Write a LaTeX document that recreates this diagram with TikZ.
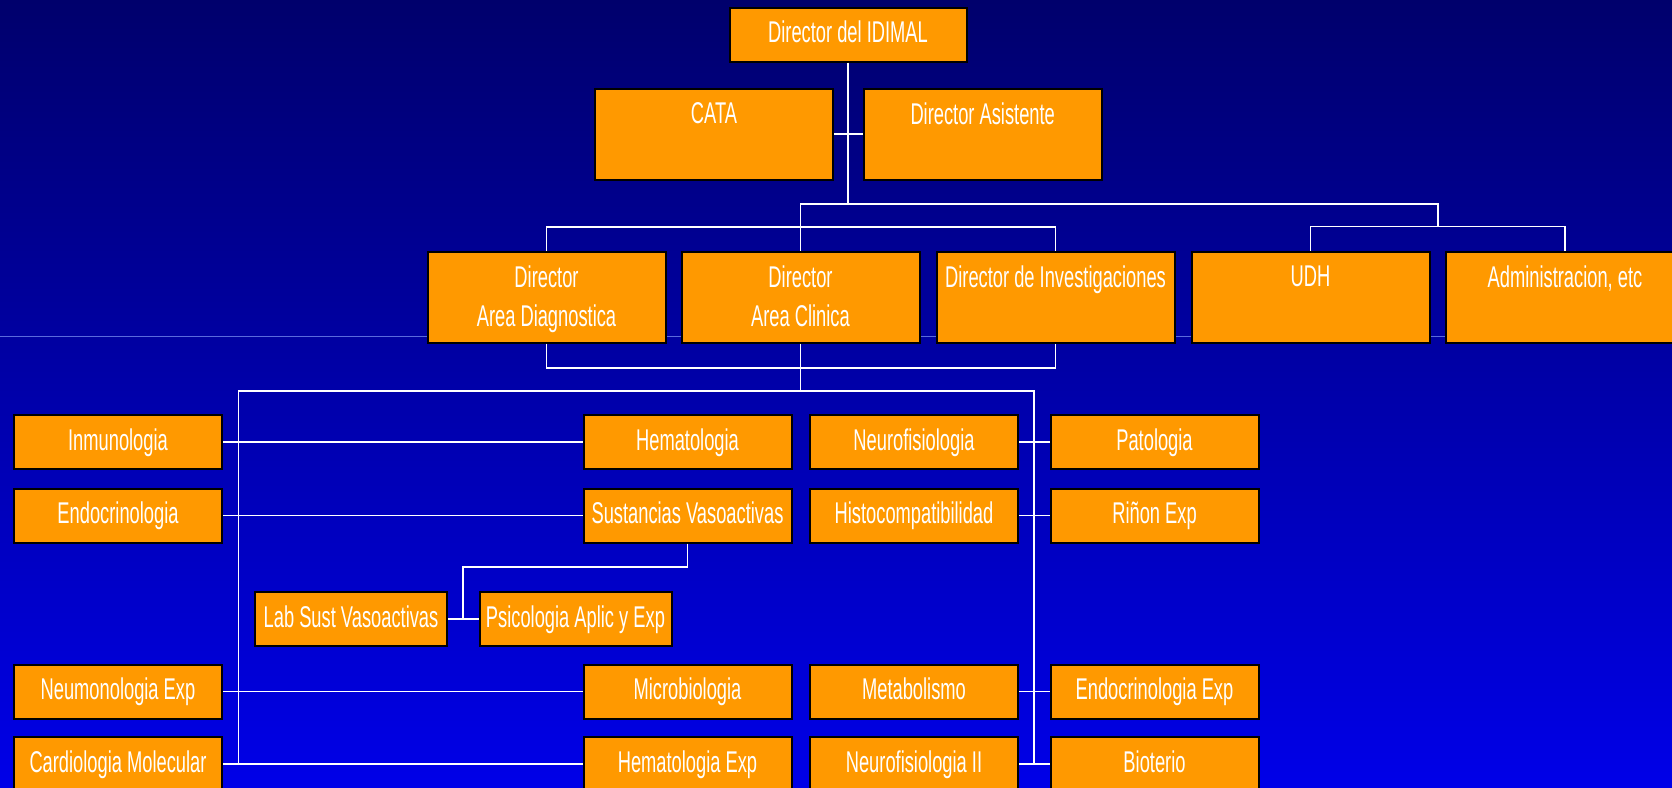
\documentclass[tikz,border=0pt]{standalone}
\usepackage{fontspec}
\setmainfont[FakeStretch=0.61]{Liberation Sans}
\usetikzlibrary{calc}

\definecolor{naranja}{HTML}{FF9900}
\definecolor{fondoarriba}{HTML}{00006C}
\definecolor{fondomedio}{HTML}{0000BC}
\definecolor{fondoabajo}{HTML}{0000E8}
\definecolor{rayaclara}{HTML}{5A6ADC}

\tikzset{
  caja/.style={draw=black, line width=2pt, fill=naranja, text=white,
    font=\fontsize{30}{39}\selectfont, minimum width=208pt, minimum height=54pt,
    inner sep=0pt, text height=22pt, text depth=6pt},
  cajagrande/.style={caja, minimum width=238pt, minimum height=91pt},
  titulo/.style={text=white, font=\fontsize{30}{39}\selectfont, align=center,
    anchor=north, inner sep=0pt, yshift=-15pt},
  linea/.style={draw=white, line width=1.8pt},
}

\begin{document}
\begin{tikzpicture}[x=1pt,y=-1pt]
        % fondo
        \useasboundingbox (0,0) rectangle (1672,787);
        \clip (0,0) rectangle (1672,787);
        \fill[top color=fondoarriba, middle color=fondomedio, bottom color=fondoabajo] (0,0) rectangle (1672,787);
        \draw[rayaclara, line width=1pt] (0,336) -- (1672,336);

        % direccion
        \node[caja, minimum width=237pt] (idimal) at (848,34.5) {Director del IDIMAL};
        \node[cajagrande, label={[titulo]north:CATA}] (cata) at (714,134) {};
        \node[cajagrande, label={[titulo]north:Director Asistente}] (asistente) at (982.7,134) {};

        % segundo nivel
        \node[cajagrande, label={[titulo]north:{Director\\Area Diagnostica}}] (diagnostica) at (546.5,297) {};
        \node[cajagrande, label={[titulo]north:{Director\\Area Clinica}}] (clinica) at (800.5,297) {};
        \node[cajagrande, label={[titulo]north:Director de Investigaciones}] (investigaciones) at (1055.5,297) {};
        \node[cajagrande, label={[titulo]north:UDH}] (udh) at (1310.5,297) {};
        \node[cajagrande, label={[titulo]north:{Administracion, etc}}] (admin) at (1565,297) {};

        % laboratorios
        \node[caja] (inmunologia) at (118,442) {Inmunologia};
        \node[caja] (endocrinologia) at (118,515.5) {Endocrinologia};
        \node[caja] (neumonologia) at (118,691.5) {Neumonologia Exp};
        \node[caja] (cardiologia) at (118,764) {Cardiologia Molecular};

        \node[caja] (hematologia) at (687.5,442) {Hematologia};
        \node[caja] (sustancias) at (687.5,515.5) {Sustancias Vasoactivas};
        \node[caja] (microbiologia) at (687.5,691.5) {Microbiologia};
        \node[caja] (hematoexp) at (687.5,764) {Hematologia Exp};

        \node[caja] (neurofisiologia) at (914,442) {Neurofisiologia};
        \node[caja] (histo) at (914,515.5) {Histocompatibilidad};
        \node[caja] (metabolismo) at (914,691.5) {Metabolismo};
        \node[caja] (neurodos) at (914,764) {Neurofisiologia II};

        \node[caja] (patologia) at (1154.5,442) {Patologia};
        \node[caja] (rinon) at (1154.5,515.5) {Riñon Exp};
        \node[caja] (endoexp) at (1154.5,691.5) {Endocrinologia Exp};
        \node[caja] (bioterio) at (1154.5,764) {Bioterio};

        \node[caja, minimum width=192pt] (labsust) at (351,619) {Lab Sust Vasoactivas};
        \node[caja, minimum width=192pt] (psicologia) at (575.5,619) {Psicologia Aplic y Exp};

        % puntos de las lineas
        \coordinate (bus1) at (0,204);
        \coordinate (bus2) at (0,227);
        \coordinate (bus4) at (0,368);
        \coordinate (nudo3) at ($(udh.north)!0.5!(admin.north)+(0,-24)$);
        \coordinate (troncoizq) at (238.5,391);
        \coordinate (troncoder) at (1034,391);
        \coordinate (codo) at (463,567);

        % lineas de arriba
        \draw[linea] (idimal.south) -- (idimal.south |- bus1);
        \draw[linea] (cata.east) -- (asistente.west);
        \draw[linea] (clinica.north) -- (clinica.north |- bus1) -| (nudo3);
        \draw[linea] (diagnostica.north) |- (investigaciones.north |- bus2) -- (investigaciones.north);
        \draw[linea] (udh.north) |- (nudo3) -| (admin.north);

        % lineas de abajo
        \draw[linea] (diagnostica.south) |- (investigaciones.south |- bus4) -- (investigaciones.south);
        \draw[linea] (clinica.south) -- (clinica.south |- troncoizq);
        \draw[linea] (cardiologia.east -| troncoizq) -- (troncoizq) -- (troncoder) -- (bioterio.west -| troncoder);

        \draw[linea] (inmunologia) -- (hematologia);
        \draw[linea] (endocrinologia) -- (sustancias);
        \draw[linea] (neumonologia) -- (microbiologia);
        \draw[linea] (cardiologia) -- (hematoexp);
        \draw[linea] (neurofisiologia) -- (patologia);
        \draw[linea] (histo) -- (rinon);
        \draw[linea] (metabolismo) -- (endoexp);
        \draw[linea] (neurodos) -- (bioterio);

        \draw[linea] (sustancias.south) |- (codo) -- (codo |- psicologia);
        \draw[linea] (labsust) -- (psicologia);
\end{tikzpicture}
\end{document}
